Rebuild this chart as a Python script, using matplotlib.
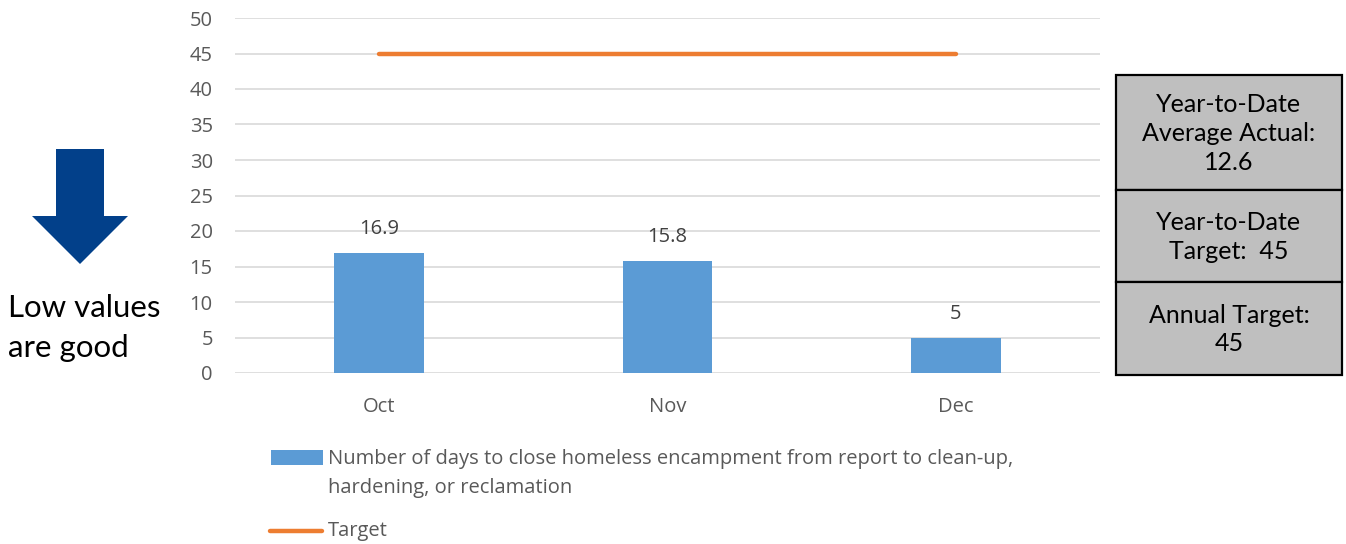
import matplotlib
matplotlib.use("Agg")
import matplotlib.pyplot as plt
from matplotlib.patches import Polygon, Rectangle
from matplotlib.lines import Line2D

months = ["Oct", "Nov", "Dec"]
days_to_close = [16.9, 15.8, 5]
target = [45, 45, 45]
bar_label = "Number of days to close homeless encampment from report to clean-up,\nhardening, or reclamation"
box_texts = ["Year-to-Date\nAverage Actual:\n12.6", "Year-to-Date\nTarget:  45", "Annual Target:\n45"]

W, H = 1346, 544
fig = plt.figure(figsize=(W / 100, H / 100), dpi=100)
ax = fig.add_axes([235 / W, 1 - 373 / H, 865 / W, 355 / H])

grey = "#595959"
bar_col = "#5B9BD5"
line_col = "#ED7D31"
fs = 14.5
x = list(range(len(months)))
ax.bar(x, days_to_close, width=0.31, color=bar_col, zorder=2)
ax.plot(x, target, color=line_col, lw=3.2, zorder=3, solid_capstyle="round")

for xi, v in zip(x, days_to_close):
    ax.annotate(f"{v:g}", (xi, v), xytext=(0, 10), textcoords="offset points",
                ha="center", va="bottom", fontsize=fs, color="#404040", family="Open Sans")

ax.set_xlim(-0.5, 2.5)
ax.set_ylim(0, 50)
ax.set_yticks(range(0, 51, 5))
ax.set_xticks(x)
ax.set_xticklabels(months)
ax.grid(axis="y", color="#D9D9D9", lw=1.2, zorder=0)
for s in ax.spines.values():
    s.set_visible(False)
ax.tick_params(length=0, labelsize=fs, labelcolor=grey)
ax.tick_params(axis="y", pad=16)
ax.tick_params(axis="x", pad=17)
for lab in ax.get_xticklabels() + ax.get_yticklabels():
    lab.set_family("Open Sans")

# legend, laid out by hand so the key sits on the first line of the wrapped label
def fx(px):
    return px / W

def fy(py):
    return 1 - py / H

fig.patches.append(Rectangle((fx(271), fy(465)), 52 / W, 15 / H, transform=fig.transFigure,
                             facecolor=bar_col, edgecolor="none"))
fig.text(fx(328), fy(449), bar_label, fontsize=fs, family="Open Sans", color=grey,
         ha="left", va="top", linespacing=1.6)
fig.lines.append(Line2D([fx(270), fx(322)], [fy(531), fy(531)], transform=fig.transFigure,
                        color=line_col, lw=3.2, solid_capstyle="round"))
fig.text(fx(328), fy(531), "Target", fontsize=fs, family="Open Sans", color=grey,
         ha="left", va="center")

# arrow "low values are good"
arrow_pts = [(56, 149), (104, 149), (104, 216), (128, 216), (80, 264), (32, 216), (56, 216)]
fig.patches.append(Polygon([(fx(px), fy(py)) for px, py in arrow_pts], closed=True,
                           transform=fig.transFigure, facecolor="#02408A", edgecolor="none"))
fig.text(fx(8), fy(328), "Low values\nare good", fontsize=22.5, family="Lato",
         ha="left", va="center", linespacing=1.5)

# summary boxes
cells = [(75, 190), (190, 282), (282, 375)]
for (top, bot), txt in zip(cells, box_texts):
    fig.patches.append(Rectangle((fx(1116), fy(bot)), 226 / W, (bot - top) / H,
                                 transform=fig.transFigure, facecolor="#BFBFBF",
                                 edgecolor="black", lw=1.6))
    fig.text(fx(1229), fy((top + bot) / 2 + 1), txt, fontsize=18, family="Lato",
             ha="center", va="center", linespacing=1.3)

fig.savefig("out.png", dpi=100)
